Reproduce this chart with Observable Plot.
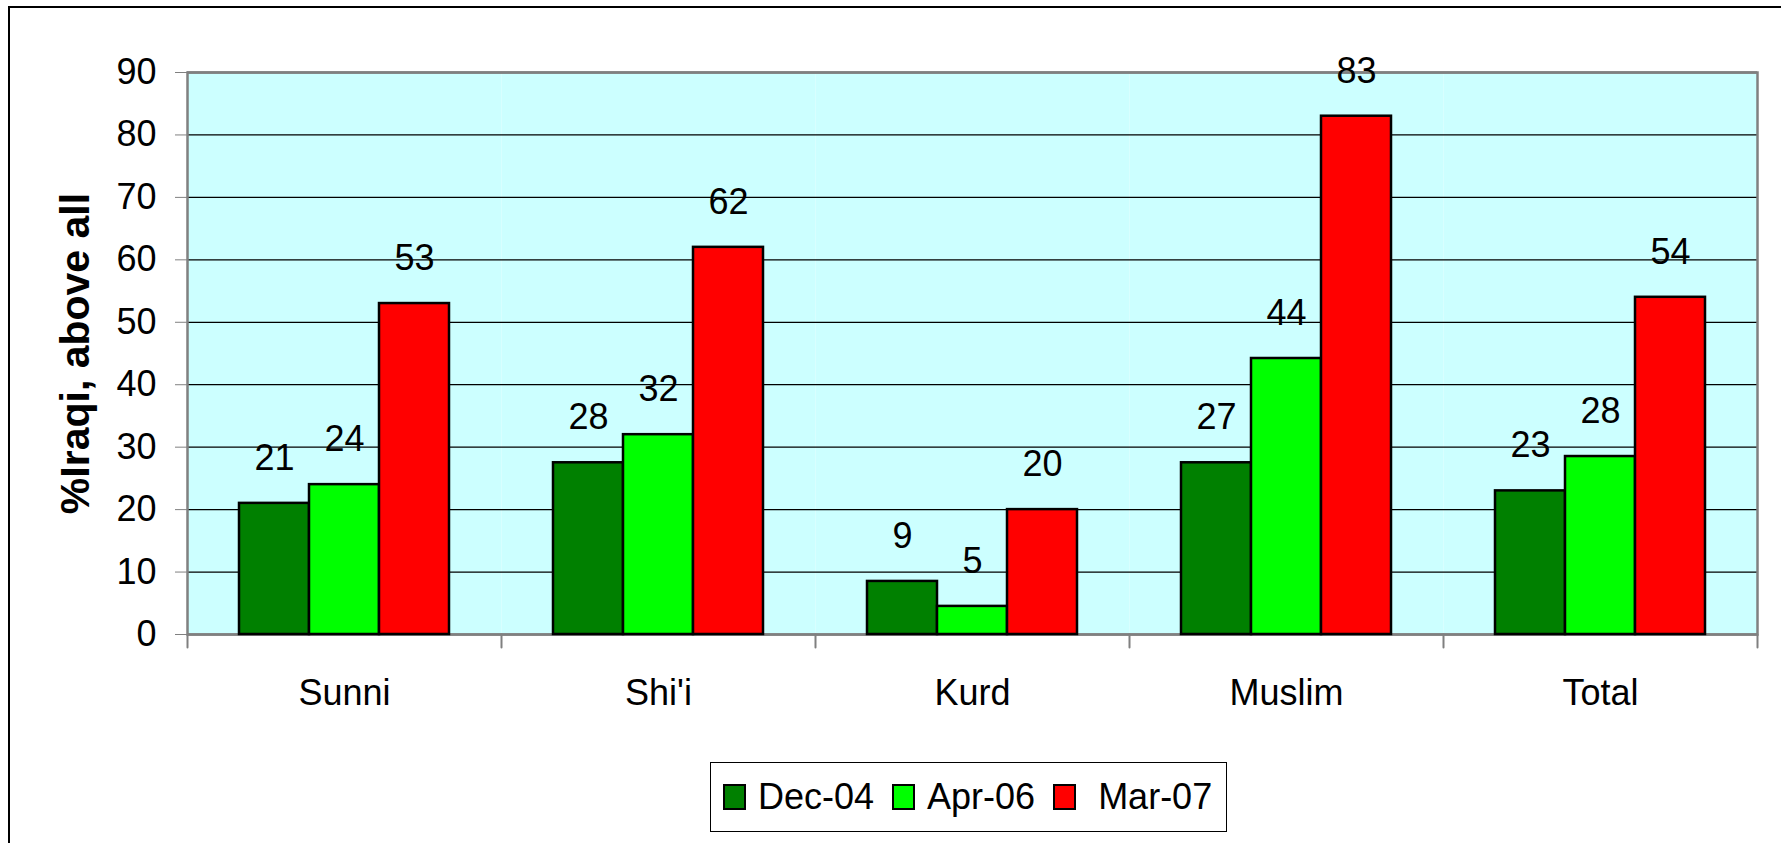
<!DOCTYPE html>
<html>
<head>
<meta charset="utf-8">
<script src="https://cdn.jsdelivr.net/npm/d3@7"></script>
<script src="https://cdn.jsdelivr.net/npm/@observablehq/plot@0.6"></script>
<style>
  html, body { margin: 0; padding: 0; background: #fff; }
  #wrap { position: relative; width: 1781px; height: 843px; overflow: hidden;
          font-family: "Liberation Sans", Arial, sans-serif; }
  #frameline { position: absolute; left: 8px; top: 6px; right: -10px; bottom: -10px;
               border-top: 2px solid #000; border-left: 2px solid #000; pointer-events: none; z-index: 5; }
  #chart svg { display: block; }
  [aria-label="y-axis label"] { font-weight: bold; font-size: 41px; }
  #legend { margin-left: 710px; margin-top: 17px; width: 517px; height: 70px; box-sizing: border-box;
            border: 1px solid #000; display: flex; align-items: center; font-size: 36px; color: #000; }
  #legend .sw { width: 19px; height: 22px; border: 2px solid #000; flex: none; }
  #legend .lab { white-space: pre; line-height: 1; }
</style>
</head>
<body>
<div id="wrap">
  <div id="chart"></div>
  <div id="legend"></div>
  <div id="frameline"></div>
</div>
<script>
const categories = ["Sunni", "Shi'i", "Kurd", "Muslim", "Total"];
const series = ["Dec-04", "Apr-06", "Mar-07"];
const dec04 = [21, 27.5, 8.5, 27.5, 23];
const apr06 = [24, 32, 4.5, 44.2, 28.5];
const mar07 = [53, 62, 20, 83, 54];
const dec04Labels = ["21", "28", "9", "27", "23"];
const apr06Labels = ["24", "32", "5", "44", "28"];
const mar07Labels = ["53", "62", "20", "83", "54"];
const seriesColors = ["#008000", "#00FF00", "#FF0000"];
const yTicks = [0, 10, 20, 30, 40, 50, 60, 70, 80, 90];
const gridTicks = [10, 20, 30, 40, 50, 60, 70, 80];
const yTitle = "%Iraqi, above all";
const legendLabels = ["Dec-04", "Apr-06", " Mar-07"];

const values = [dec04, apr06, mar07];
const labels = [dec04Labels, apr06Labels, mar07Labels];
const rows = [];
categories.forEach((cat, i) => {
  series.forEach((s, j) => {
    rows.push({cat, series: s, value: values[j][i], label: labels[j][i]});
  });
});

const font = '"Liberation Sans", Arial, sans-serif';

const chart = Plot.plot({
  width: 1781,
  height: 745,
  marginLeft: 185,
  marginRight: 22,
  marginTop: 72,
  marginBottom: 111,
  style: {fontFamily: font, background: "transparent", color: "#000", overflow: "visible"},
  fx: {domain: categories, padding: 0, label: null},
  x: {domain: series, paddingInner: 0, paddingOuter: 0.739, axis: null},
  y: {domain: [0, 90], label: yTitle},
  color: {domain: series, range: seriesColors},
  marks: [
    Plot.frame({fill: "#CCFFFF"}),
    Plot.gridY(gridTicks, {stroke: "#000", strokeOpacity: 1, strokeWidth: 1.2}),
    Plot.ruleY([0, 90], {stroke: "#808080", strokeWidth: 2.5}),
    Plot.frame({facet: "super", stroke: "#808080", strokeWidth: 2.5}),
    Plot.barY(rows, {fx: "cat", x: "series", y: "value", fill: "series", stroke: "#000", strokeWidth: 2.5}),
    Plot.text(rows, {fx: "cat", x: "series", y: "value", text: "label", dy: -45, fontSize: 36, lineAnchor: "middle", fill: "#000"}),
    Plot.vector(categories, {fx: d => d, frameAnchor: "bottom-left", length: 13, rotate: 180, anchor: "start", r: 0, stroke: "#808080", strokeWidth: 2}),
    Plot.vector(["Total"], {fx: d => d, frameAnchor: "bottom-right", length: 13, rotate: 180, anchor: "start", r: 0, stroke: "#808080", strokeWidth: 2}),
    Plot.axisY({ticks: yTicks, tickSize: 12, tickPadding: 19, fontSize: 36, stroke: "#808080", fill: "#000",
                label: yTitle, labelAnchor: "center", labelOffset: 128, labelArrow: "none"}),
    Plot.axisFx({anchor: "bottom", tickSize: 0, tickPadding: 45, fontSize: 36, label: null, fill: "#000"})
  ]
});
document.getElementById("chart").appendChild(chart);

const legend = document.getElementById("legend");
series.forEach((s, j) => {
  const sw = document.createElement("span");
  sw.className = "sw";
  sw.style.background = seriesColors[j];
  sw.style.marginLeft = j === 0 ? "12px" : "18px";
  sw.style.marginRight = "12px";
  const lab = document.createElement("span");
  lab.className = "lab";
  lab.textContent = legendLabels[j];
  legend.appendChild(sw);
  legend.appendChild(lab);
});
</script>
</body>
</html>
